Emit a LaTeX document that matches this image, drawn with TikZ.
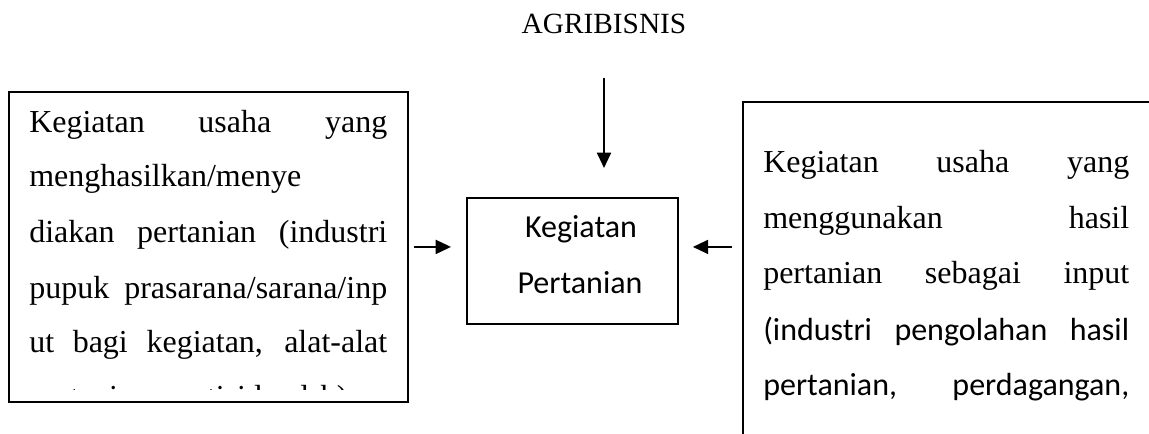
\documentclass[tikz,border=0pt]{standalone}
\usepackage{fontspec}
\setmainfont{Liberation Serif}
\newfontfamily\calibri{Carlito}
\usetikzlibrary{arrows.meta}
\begin{document}
\begin{tikzpicture}[x=0.75pt,y=-0.75pt,
  box/.style={draw, line width=1.4pt, inner sep=0pt, anchor=north west},
  conn/.style={line width=1.5pt, -{Triangle[length=11.5pt,width=10.5pt]}},
  txt/.style={anchor=base west, inner sep=0pt, font=\fontsize{24}{24}\selectfont},
  ctxt/.style={anchor=base, inner sep=0pt, font=\calibri\fontsize{24}{24}\selectfont},
]
\useasboundingbox (0,0) rectangle (1149,433);
\clip (0,0) rectangle (1149,433);
\fill[white] (0,0) rectangle (1149,433);

% title
\node[anchor=base, inner sep=0pt, font=\fontsize{22}{22}\selectfont] (title) at (604,33) {AGRIBISNIS};

% boxes
\node[box, minimum width=299.25pt, minimum height=232.5pt] (lbox) at (8,91) {};
\node[box, minimum width=158.25pt, minimum height=94.5pt] (mid) at (466,197) {};
\node[box, minimum width=330pt, minimum height=270pt] (rbox) at (742,101) {};

% left box text
\node[txt] (l1) at (29,132) {\makebox[268.5pt][s]{Kegiatan usaha yang}};
\node[txt] (l2) at (29,186) {menghasilkan/menye};
\node[txt] (l3) at (29,242) {\makebox[268.5pt][s]{diakan pertanian (industri}};
\node[txt] (l4) at (29,298) {\makebox[268.5pt][s]{pupuk prasarana/sarana/inp}};
\node[txt] (l5) at (29,352) {\makebox[268.5pt][s]{ut bagi kegiatan, alat-alat}};
\begin{scope}
\clip (8,91) rectangle (407,389);
\node[txt] (l6) at (29,407) {pertanian, pestisida, dsb)};
\end{scope}

% middle text
\node[ctxt] (m1) at (581,237) {Kegiatan};
\node[ctxt] (m2) at (580,293) {Pertanian};

% right box text
\node[txt] (r1) at (763,172) {\makebox[274.5pt][s]{Kegiatan usaha yang}};
\node[txt] (r2) at (763,228) {\makebox[274.5pt][s]{menggunakan hasil}};
\node[txt] (r3) at (763,283) {\makebox[274.5pt][s]{pertanian sebagai input}};
\node[txt, font=\calibri\fontsize{24}{24}\selectfont] (r4) at (763,340) {\makebox[274.5pt][s]{(industri pengolahan hasil}};
\node[txt, font=\calibri\fontsize{24}{24}\selectfont] (r5) at (763,395) {\makebox[274.5pt][s]{pertanian, perdagangan,}};

% connectors
\draw[conn, shorten <=33pt, shorten >=21.75pt] (title.south) -- (title.south |- mid.north);
\draw[conn, shorten <=3.75pt, shorten >=11.25pt] (lbox.east) -- (lbox.east -| mid.west);
\draw[conn, shorten <=7.5pt, shorten >=10.5pt] (rbox.west |- lbox.east) -- (mid.east |- lbox.east);
\end{tikzpicture}
\end{document}
